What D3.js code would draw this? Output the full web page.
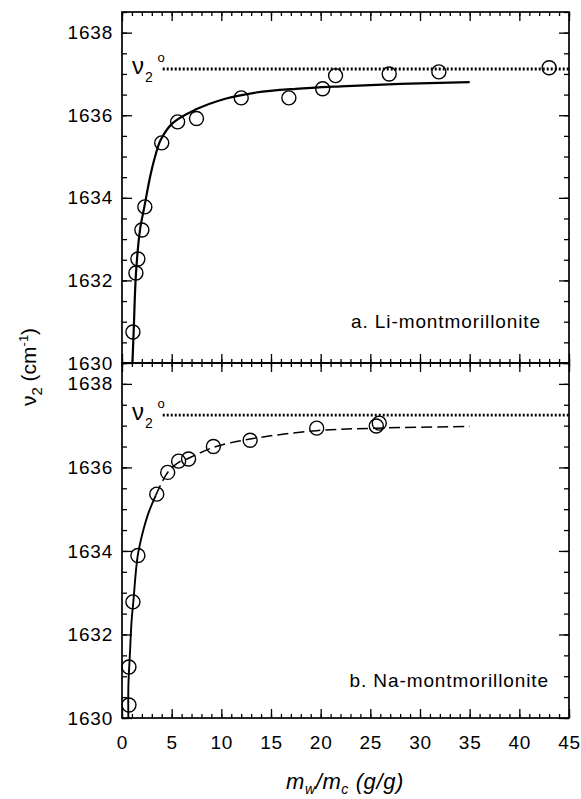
<!DOCTYPE html>
<html>
<head>
<meta charset="utf-8">
<script src="https://cdn.jsdelivr.net/npm/d3@7"></script>
<style>
  body { margin: 0; background: #fff; }
  svg { display: block; }
  text { font-family: "Liberation Sans", Arial, sans-serif; fill: #000; }
</style>
</head>
<body>
<svg id="chart" width="581" height="799"></svg>
<script>
// ---- data ----
const xTicks = [0, 5, 10, 15, 20, 25, 30, 35, 40, 45];
const yTicks = [1630, 1632, 1634, 1636, 1638];

// a. Li-montmorillonite
const liX = [1.1, 1.4, 1.6, 2.0, 2.3, 4.0, 5.6, 7.5, 12.0, 16.8, 20.2, 21.5, 26.9, 31.9, 43.0];
const liY = [1630.75, 1632.18, 1632.52, 1633.22, 1633.78, 1635.33, 1635.84, 1635.92, 1636.42, 1636.42, 1636.64, 1636.96, 1637.0, 1637.05, 1637.15];
const liFitX = [1.05, 1.18, 1.41, 1.81, 2.25, 2.82, 3.32, 3.89, 5.1, 7.35, 10.4, 13.5, 17.5, 22, 28, 35];
const liFitY = [1630, 1630.8, 1632.18, 1633.22, 1633.78, 1634.5, 1634.99, 1635.4, 1635.81, 1636.13, 1636.4, 1636.55, 1636.64, 1636.7, 1636.76, 1636.8];
const liNu0 = 1637.12;

// b. Na-montmorillonite
const naX = [0.7, 0.7, 1.1, 1.6, 3.5, 4.6, 5.7, 6.7, 9.2, 12.9, 19.6, 25.6, 25.9];
const naY = [1630.31, 1631.22, 1632.78, 1633.89, 1635.36, 1635.88, 1636.15, 1636.2, 1636.5, 1636.65, 1636.94, 1636.99, 1637.06];
const naFitSolidX = [0.64, 0.64, 0.8, 0.97, 1.14, 1.58, 2.15, 2.65, 3.4];
const naFitSolidY = [1630, 1630.74, 1631.56, 1632.34, 1632.78, 1633.88, 1634.5, 1634.9, 1635.33];
const naFitDashX = [3.4, 4.6, 5.7, 6.7, 9.2, 12.9, 19.6, 25.6, 35];
const naFitDashY = [1635.33, 1635.88, 1636.12, 1636.22, 1636.48, 1636.68, 1636.88, 1636.94, 1636.98];
const naNu0 = 1637.25;

const svg = d3.select("#chart");
const left = 122, right = 569;
const x = d3.scaleLinear().domain([0, 45]).range([left, right]);

const pts = (xs, ys) => xs.map((v, i) => [v, ys[i]]);
const minorX = d3.range(0, 46, 1);
const minorY = d3.range(1630, 1638.51, 0.5);

function panel(top, bottom, opts) {
  const y = d3.scaleLinear().domain([1630, 1638.5]).range([bottom, top]);
  const g = svg.append("g");

  // ticks (all inward)
  const axes = [
    [d3.axisLeft(y).tickValues(minorY).tickSize(-5).tickFormat(""), `translate(${left},0)`],
    [d3.axisRight(y).tickValues(minorY).tickSize(-5).tickFormat(""), `translate(${right},0)`],
    [d3.axisRight(y).tickValues(yTicks).tickSize(-10).tickFormat(""), `translate(${right},0)`],
    [d3.axisTop(x).tickValues(minorX).tickSize(-4).tickFormat(""), `translate(0,${top})`],
    [d3.axisTop(x).tickValues(xTicks).tickSize(-9).tickFormat(""), `translate(0,${top})`],
    [d3.axisBottom(x).tickValues(minorX).tickSize(-4).tickFormat(""), `translate(0,${bottom})`],
    [d3.axisBottom(x).tickValues(xTicks).tickSize(-9).tickFormat(""), `translate(0,${bottom})`]
  ];
  for (const [ax, tr] of axes) g.append("g").attr("transform", tr).call(ax);

  g.append("g")
    .attr("transform", `translate(${left},0)`)
    .call(d3.axisLeft(y).tickValues(yTicks).tickSize(-10).tickPadding(9).tickFormat(d3.format("d")))
    .selectAll(".tick text")
    .attr("font-size", 19)
    .attr("letter-spacing", "0.8px");

  if (opts.xLabels) {
    g.append("g")
      .attr("transform", `translate(0,${bottom})`)
      .call(d3.axisBottom(x).tickValues(xTicks).tickSize(0).tickPadding(18))
      .selectAll(".tick text")
      .attr("font-size", 19)
      .attr("letter-spacing", "0.8px");
  }

  g.selectAll(".domain").remove();
  g.selectAll(".tick line").attr("stroke", "#000").attr("stroke-width", 1.3);

  g.append("rect")
    .attr("x", left).attr("y", top)
    .attr("width", right - left).attr("height", bottom - top)
    .attr("fill", "none").attr("stroke", "#000").attr("stroke-width", 1.7);

  // nu2 degree dotted line
  const y0 = y(opts.nu0);
  g.append("line")
    .attr("x1", x(4.1)).attr("x2", right)
    .attr("y1", y0).attr("y2", y0)
    .attr("stroke", "#000").attr("stroke-width", 2.8)
    .attr("stroke-dasharray", "2,2");

  g.append("text").attr("x", 132).attr("y", y0 + 5).attr("font-size", 24).text("ν");
  g.append("text").attr("x", 145).attr("y", y0 + 13).attr("font-size", 14).text("2");
  g.append("text").attr("x", 161).attr("y", y0 - 7).attr("font-size", 13)
    .attr("text-anchor", "middle").text("o");

  for (const c of opts.curves) {
    g.append("path")
      .datum(c.data)
      .attr("d", d3.line().x(d => x(d[0])).y(d => y(d[1])).curve(d3.curveCatmullRom.alpha(0.5)))
      .attr("fill", "none")
      .attr("stroke", "#000")
      .attr("stroke-width", c.width)
      .attr("stroke-dasharray", c.dash || null);
  }

  g.selectAll("circle.pt")
    .data(opts.points)
    .enter()
    .append("circle")
    .attr("class", "pt")
    .attr("cx", d => x(d[0]))
    .attr("cy", d => y(d[1]))
    .attr("r", 7)
    .attr("fill", "none")
    .attr("stroke", "#000")
    .attr("stroke-width", 1.4);

  g.append("text")
    .attr("x", opts.labelX).attr("y", opts.labelY)
    .attr("text-anchor", "end")
    .attr("font-size", 19)
    .attr("letter-spacing", "0.9px")
    .text(opts.label);
}

panel(12, 363, {
  nu0: liNu0,
  points: pts(liX, liY),
  curves: [{ data: pts(liFitX, liFitY), width: 2.2 }],
  label: "a.  Li-montmorillonite",
  labelX: 541, labelY: 328,
  xLabels: false
});

panel(363, 718, {
  nu0: naNu0,
  points: pts(naX, naY),
  curves: [
    { data: pts(naFitSolidX, naFitSolidY), width: 1.9 },
    { data: pts(naFitDashX, naFitDashY), width: 1.5, dash: "11,5" }
  ],
  label: "b.  Na-montmorillonite",
  labelX: 549, labelY: 687,
  xLabels: true
});

// axis titles
const yl = svg.append("text")
  .attr("transform", "translate(36,367) rotate(-90)")
  .attr("text-anchor", "middle")
  .attr("font-size", 21);
yl.append("tspan").text("ν");
yl.append("tspan").attr("font-size", 15).attr("dy", 6).text("2");
yl.append("tspan").attr("dy", -6).text(" (cm");
yl.append("tspan").attr("font-size", 13).attr("dy", -8).text("-1");
yl.append("tspan").attr("dy", 8).text(")");

const xl = svg.append("text")
  .attr("x", 345).attr("y", 789)
  .attr("text-anchor", "middle")
  .attr("font-size", 22)
  .attr("letter-spacing", "0.6px")
  .attr("font-style", "italic");
xl.append("tspan").text("m");
xl.append("tspan").attr("font-size", 14).attr("dy", 5).text("w");
xl.append("tspan").attr("dy", -5).text("/m");
xl.append("tspan").attr("font-size", 14).attr("dy", 5).text("c");
xl.append("tspan").attr("dy", -5).text(" (g/g)");
</script>
</body>
</html>
